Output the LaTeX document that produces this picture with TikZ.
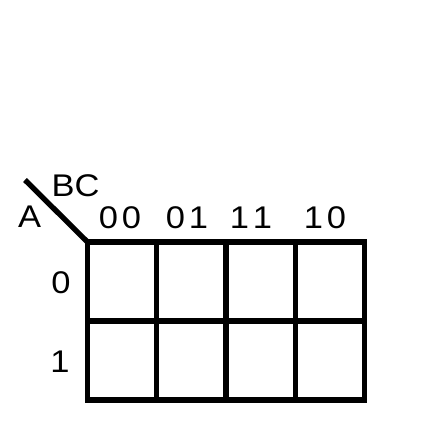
\documentclass[tikz,border=0pt]{standalone}
\usepackage{fontspec}
\setmainfont{Liberation Sans}[FakeStretch=1.1]

\begin{document}
\begin{tikzpicture}[x=0.75pt, y=-0.75pt, line width=4pt,
    lbl/.style = {font=\fontsize{23.5}{28}\selectfont, inner sep=0pt}]
    \useasboundingbox (0,0) rectangle (443,423);
    % map
    \draw (87.5,242) rectangle (364.5,400);
    \draw (87.5,321) -- (364.5,321);
    \foreach \i in {1,2,3}
        \draw (87.5+69.25*\i,242) -- (87.5+69.25*\i,400);
    \coordinate (corner) at (87.5,242);
    \coordinate (tip) at (25,180);
    \draw (tip) -- (corner);
    \node[lbl] (BC) at (75.5,186) {BC};
    \node[lbl] (A) at (29.5,217) {A};
    \node[lbl] (C00) at (120,218) {0\hspace{3pt}0};
    \node[lbl] (C01) at (187,218) {0\hspace{3pt}1};
    \node[lbl] (C11) at (251,218) {1\hspace{3pt}1};
    \node[lbl] (C10) at (325,218) {1\hspace{3pt}0};
    \node[lbl] (R0) at (61,282.5) {0};
    \node[lbl] (R1) at (60,362) {1};
\end{tikzpicture}
\end{document}
